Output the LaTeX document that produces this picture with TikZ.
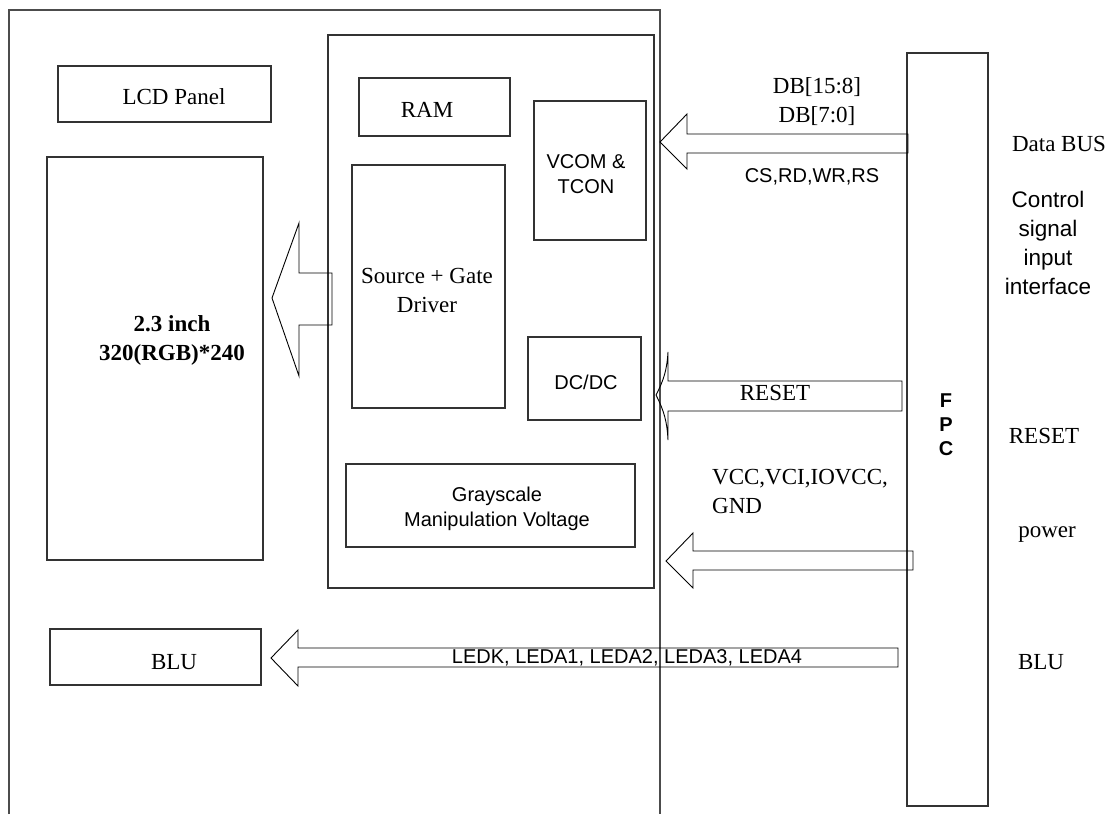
\documentclass[tikz,border=0pt]{standalone}
\usepackage{fontspec}
\setmainfont{Liberation Serif}
\newfontfamily\arialf{Liberation Sans}
\begin{document}
\begin{tikzpicture}[x=1pt,y=-1pt,
  blk/.style={draw=black!80, line width=1.6pt, inner sep=0pt},
  outer/.style={draw=black!70, line width=1.8pt},
  barrow/.style={draw=black, line width=0.9pt, line join=miter},
  serift/.style={font=\fontsize{23}{29}\selectfont, align=center, inner sep=0pt, text=black},
  sanst/.style={font=\arialf\fontsize{20}{25.5}\selectfont, align=center, inner sep=0pt, text=black},
  boldt/.style={font=\bfseries\fontsize{23}{29}\selectfont, align=center, inner sep=0pt},
  fpct/.style={font=\arialf\bfseries\fontsize{20}{24}\selectfont, align=center, inner sep=0pt}
]
\useasboundingbox (0,0) rectangle (1113,814);
% outer module outline
\draw[outer] (9,814) -- (9,10) -- (660,10) -- (660,814);
% boxes
\node[blk, minimum width=213pt, minimum height=56pt] (lcdbox) at (164.5,94) {};
\node[blk, minimum width=216pt, minimum height=403pt] (panel) at (155,358.5) {};
\node[blk, minimum width=326pt, minimum height=553pt] (ic) at (491,311.5) {};
\node[blk, minimum width=151pt, minimum height=58pt] (ram) at (434.5,107) {};
\node[blk, minimum width=112pt, minimum height=139pt] (vcom) at (590,170.5) {};
\node[blk, minimum width=153pt, minimum height=243pt] (src) at (428.5,286.5) {};
\node[blk, minimum width=113pt, minimum height=83pt] (dcdc) at (584.5,378.5) {};
\node[blk, minimum width=289pt, minimum height=83pt] (gray) at (490.5,505.5) {};
\node[blk, minimum width=211pt, minimum height=56pt] (blubox) at (155.5,657) {};
\node[blk, minimum width=81pt, minimum height=753pt] (fpc) at (947.5,429.5) {};
% block arrows
\draw[barrow] (332,273) -- (299,273) -- (299,223) -- (272,298) -- (299,376) -- (299,325) -- (332,325) -- cycle;
\draw[barrow] (908,134) -- (687,134) -- (687,114) -- (660,142) -- (687,169) -- (687,153) -- (908,153) -- cycle;
\draw[barrow] (902,381) -- (668,381) -- (668,352) to[bend left=12] (656,395) to[bend left=12] (668,440) -- (668,411) -- (902,411) -- cycle;
\draw[barrow] (913,551) -- (693,551) -- (693,533) -- (666,561) -- (693,588) -- (693,570) -- (913,570) -- cycle;
\draw[barrow] (898,648) -- (298,648) -- (298,630) -- (271,658) -- (298,686) -- (298,667) -- (898,667) -- cycle;
% texts
\node[serift] (tlcd) at (174,97) {LCD Panel};
\node[boldt] (tsize) at (172,340) {2.3 inch\\320(RGB)*240};
\node[serift] (tram) at (427,110) {RAM};
\node[sanst] (tvcom) at (586,174) {VCOM \&\\TCON};
\node[serift] (tsrc) at (427,290) {Source + Gate\\Driver};
\node[sanst] (tdcdc) at (586,382) {DC/DC};
\node[sanst] (tgray) at (497,509) {Grayscale\\Manipulation Voltage};
\node[serift] (tdb) at (817,102) {DB[15:8]\\DB[7:0]};
\node[sanst] (tcs) at (812,177) {CS,RD,WR,RS};
\node[serift] (tdbus) at (1059,144) {Data BUS};
\node[sanst, font=\arialf\fontsize{22.5}{29}\selectfont] (tctrl) at (1048,243) {Control\\signal\\input\\interface};
\node[serift] (treset) at (775,393) {RESET};
\node[fpct] (tfpc) at (946,425) {F\\P\\C};
\node[serift] (treset2) at (1044,436) {RESET};
\node[serift, align=left, anchor=west] (tvcc) at (712,491) {VCC,VCI,IOVCC,\\GND};
\node[serift] (tpower) at (1047,535) {power};
\node[sanst] (tled) at (627,658) {LEDK, LEDA1, LEDA2, LEDA3, LEDA4};
\node[serift] (tblu) at (174,662) {BLU};
\node[serift] (tblu2) at (1041,662) {BLU};
\end{tikzpicture}
\end{document}
